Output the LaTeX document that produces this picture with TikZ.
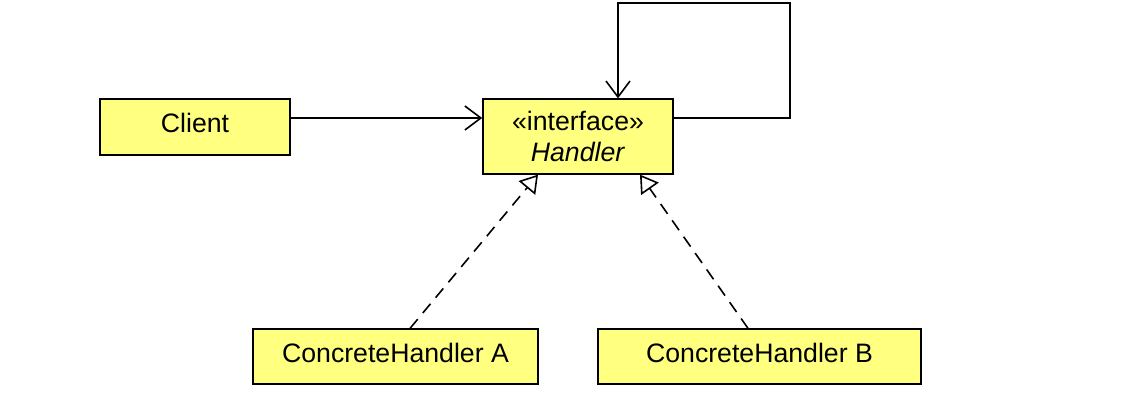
\documentclass[tikz,border=0pt]{standalone}
\usepackage{fontspec}
\setmainfont{Liberation Sans}
\usetikzlibrary{calc}
\usetikzlibrary{arrows.meta}

\definecolor{umlyellow}{RGB}{255,255,128}

\tikzset{
  box/.style={draw,fill=umlyellow,line width=1.2pt,inner sep=0pt,align=center,
    font=\fontsize{20}{23.5}\selectfont},
  onebox/.style={box,text depth=6pt},
  assoc/.style={line width=1.2pt,-{Straight Barb[length=12pt,width=18pt,line width=1.2pt]}},
  realize/.style={line width=1.2pt,dash pattern=on 9pt off 6pt,
    -{Triangle[open,length=13pt,width=16pt,line width=1.2pt,fill=white]}}
}

\begin{document}
\begin{tikzpicture}[x=0.75pt,y=-0.75pt]
      \fill[white] (0,0) rectangle (1128,409);
      \useasboundingbox (0,0) rectangle (1128,409);

      \node[onebox,minimum width=142.5pt,minimum height=42pt] (client) at (195,127) {Client};
      \node[box,minimum width=142.5pt,minimum height=56pt] (handler) at (578,136.5)
        {\guillemotleft interface\guillemotright\\\textit{Handler}};
      \node[onebox,minimum width=214pt,minimum height=41pt] (concA) at (395.5,356.5) {ConcreteHandler A};
      \node[onebox,minimum width=242pt,minimum height=41pt] (concB) at (759.5,356.5) {ConcreteHandler B};

      % client uses the handler
      \draw[assoc] ([yshift=6.75pt]client.east) -- ([yshift=6.75pt]client.east -| handler.west);

      % successor link back to itself
      \coordinate (loopR) at (790,3);
      \coordinate (loopL) at (618,3);
      \draw[assoc] ([yshift=13.9pt]handler.east) -- ([yshift=13.9pt]handler.east -| loopR)
        -- (loopR) -- (loopL) -- (loopL |- handler.north);

      % implementations
      \draw[realize] ([xshift=10.9pt]concA.north) -- ([xshift=-30pt]handler.south);
      \draw[realize] ([xshift=-8.6pt]concB.north) -- ([xshift=46.5pt]handler.south);
    \end{tikzpicture}
\end{document}
